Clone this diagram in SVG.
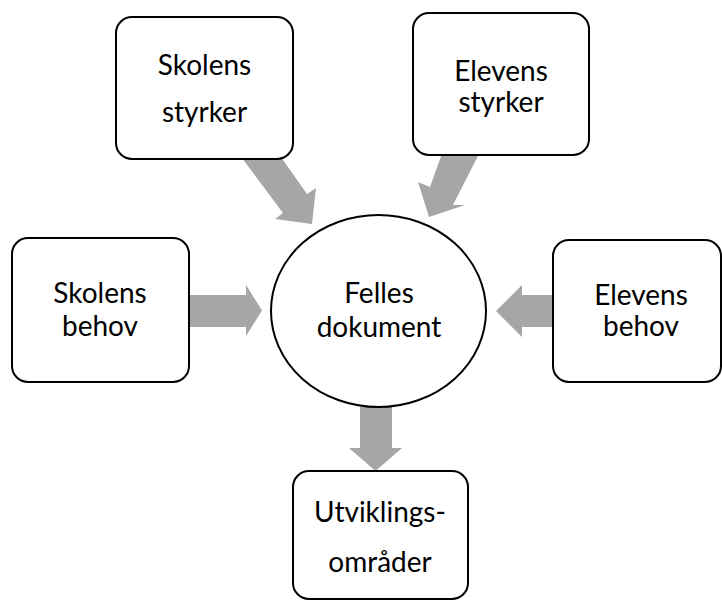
<svg xmlns="http://www.w3.org/2000/svg" width="722" height="601" viewBox="0 0 722 601">
  <style>
    .box { fill: #ffffff; stroke: #000000; stroke-width: 2; }
    .arrow { fill: #a6a6a6; stroke: none; }
    .label { font-family: "Lato", "Open Sans", "Liberation Sans", sans-serif; font-size: 28px; fill: #000000; text-anchor: middle; }
  </style>
  <rect x="0" y="0" width="722" height="601" fill="#ffffff"/>

  <!-- block arrows feeding into / out of the central document -->
  <g id="connectors">
    <polygon class="arrow" points="236,150 276,150 307,194 316,188 312,224 275,219 283,213"/>
    <polygon class="arrow" points="444,148 482,148 453,205 465,205 429,217 418,182 430,187"/>
    <polygon class="arrow" points="185,295 246,295 246,285 262,310.5 246,336 246,327 185,327"/>
    <polygon class="arrow" points="557,295 522,295 522,285 496,311 522,337 522,327 557,327"/>
    <polygon class="arrow" points="360,400 392,400 392,448 402,448 375.5,471 349,448 360,448"/>
  </g>

  <g id="skolens-styrker">
    <rect class="box" x="116" y="17" width="177" height="142" rx="16"/>
    <text class="label" x="204.5" y="75">Skolens</text>
    <text class="label" x="204.5" y="122">styrker</text>
  </g>

  <g id="elevens-styrker">
    <rect class="box" x="413" y="13" width="176" height="142" rx="16"/>
    <text class="label" x="501" y="81">Elevens</text>
    <text class="label" x="501" y="112">styrker</text>
  </g>

  <g id="skolens-behov">
    <rect class="box" x="12" y="238" width="177" height="144" rx="16"/>
    <text class="label" x="100" y="303">Skolens</text>
    <text class="label" x="100" y="336">behov</text>
  </g>

  <g id="felles-dokument">
    <ellipse class="box" cx="378.5" cy="311" rx="107.5" ry="96"/>
    <text class="label" x="379" y="303">Felles</text>
    <text class="label" x="379" y="337">dokument</text>
  </g>

  <g id="elevens-behov">
    <rect class="box" x="553" y="240" width="168" height="142" rx="16"/>
    <text class="label" x="641" y="305">Elevens</text>
    <text class="label" x="641" y="336">behov</text>
  </g>

  <g id="utviklingsomrader">
    <rect class="box" x="293" y="471" width="175" height="128" rx="16"/>
    <text class="label" x="380" y="522">Utviklings-</text>
    <text class="label" x="380" y="572">områder</text>
  </g>
</svg>
